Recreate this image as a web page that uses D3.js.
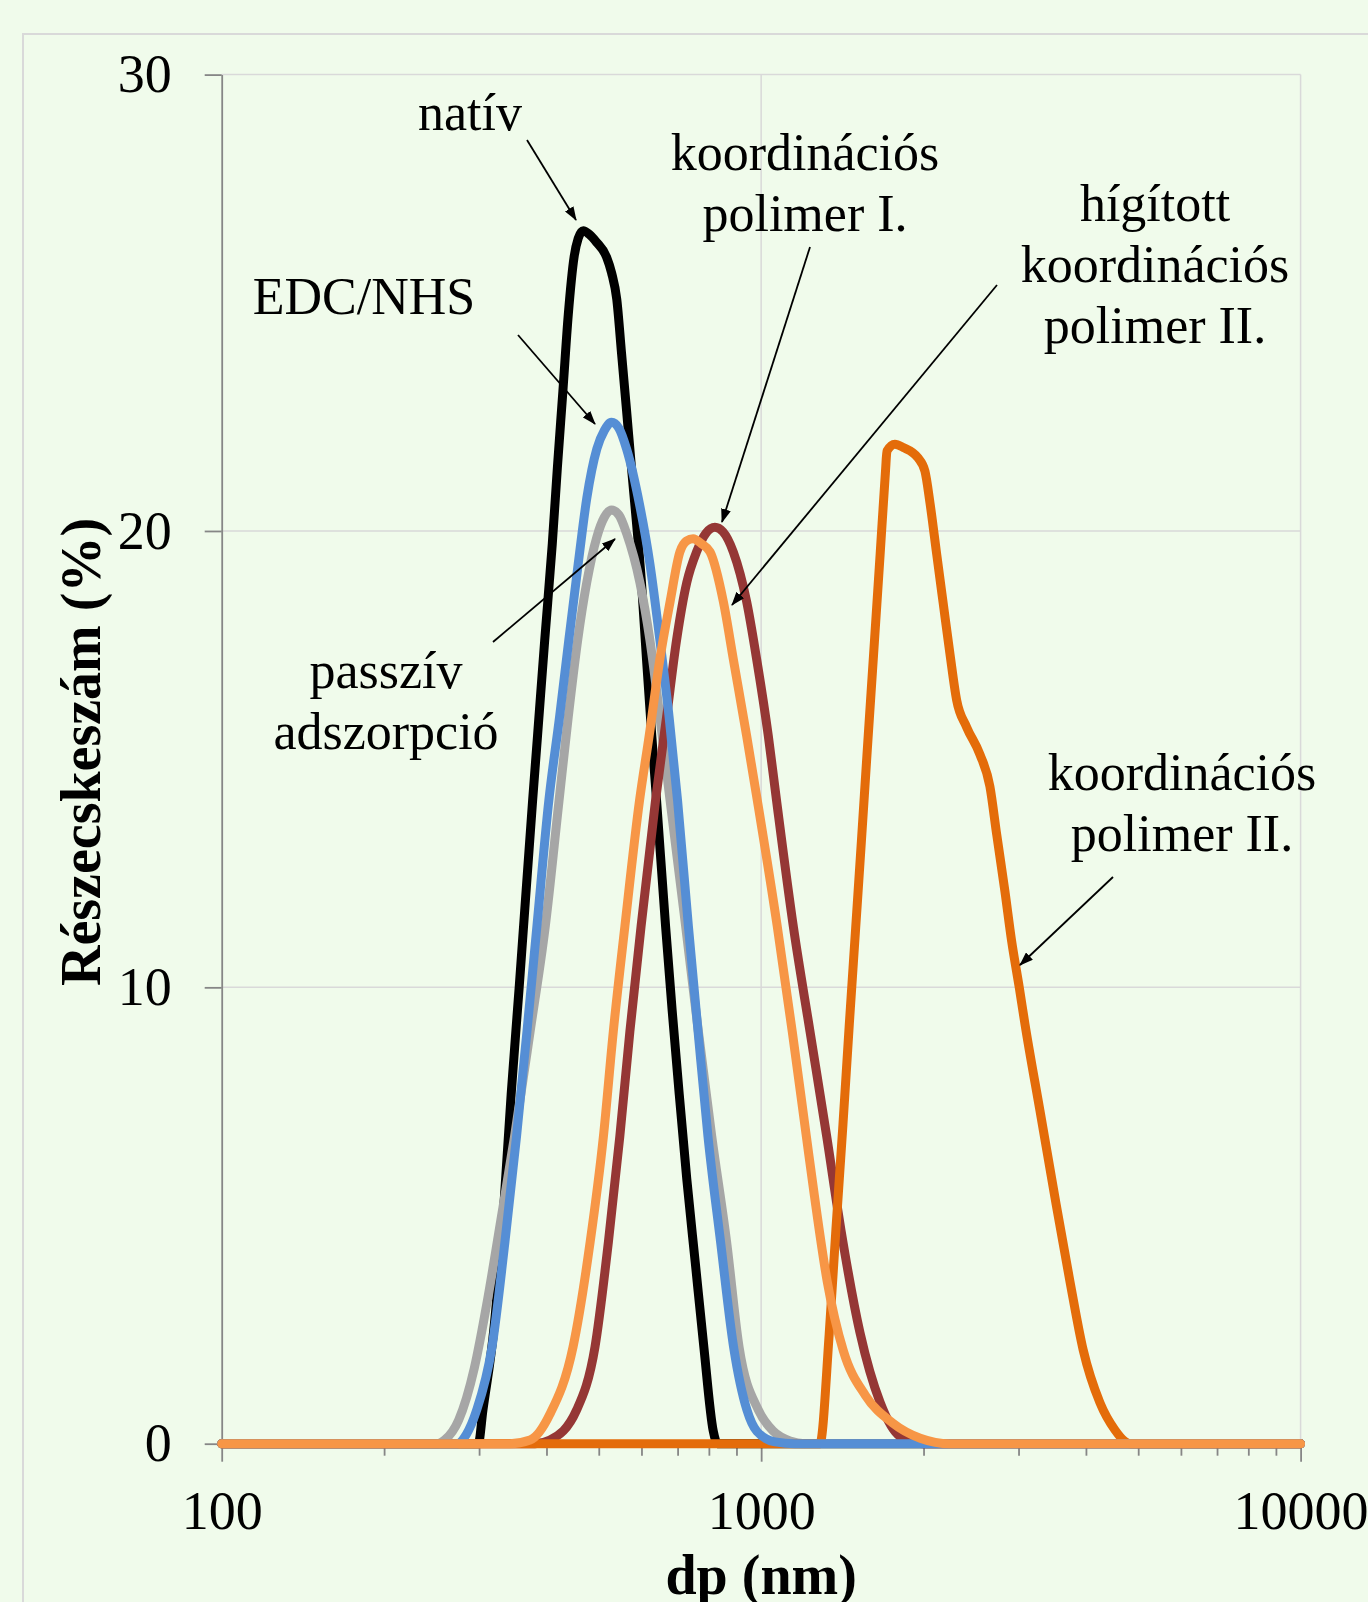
<!DOCTYPE html>
<html>
<head>
<meta charset="utf-8">
<script src="https://cdn.jsdelivr.net/npm/d3@7"></script>
<style>
    body { margin: 0; background: #f0fbeb; }
    svg { display: block; }
</style>
</head>
<body>
<div id="chart"></div>
<script>
// ---- data (dp in nm, share in %) ----
const yTicks = [0, 10, 20, 30];
const xMajorTicks = [100, 1000, 10000];
const xMinorTicks = [200, 300, 400, 500, 600, 700, 800, 900, 2000, 3000, 4000, 5000, 6000, 7000, 8000, 9000];

const nativ = [[100,0],[290,0],[299,0],[305,0.74],[320,2.58],[332,4.88],[344,7.65],[356,10.0],[377,14.09],[385,15.51],[397,17.61],[410,19.71],[419,21.38],[429,23.06],[439,24.74],[450,26.0],[458,26.41],[468,26.58],[480,26.5],[495,26.33],[517,26.0],[528,25.66],[540,25.07],[551,23.9],[563,22.64],[575,21.38],[588,20.12],[600,18.87],[613,17.19],[627,15.51],[640,14.09],[665,11.34],[684,9.49],[705,7.65],[728,5.8],[755,3.96],[783,2.12],[815,0.28],[830,0],[10000,0]];

const passziv = [[100,0],[251,0],[259,0.08],[275,0.52],[294,1.66],[311,3.15],[329,4.88],[349,6.73],[373,9.03],[398,11.34],[422,14.09],[439,15.93],[457,17.61],[475,18.87],[496,19.87],[512,20.3],[528,20.46],[545,20.35],[563,19.95],[596,18.87],[622,17.61],[649,15.93],[678,14.09],[720,11.6],[765,9.03],[810,6.73],[863,4.42],[910,2.12],[988,0.74],[1052,0.28],[1131,0.06],[1206,0],[10000,0]];

const edcNhs = [[100,0],[273,0],[284,0.2],[297,0.74],[317,2.12],[335,4.42],[352,6.73],[368,9.03],[384,11.34],[404,14.09],[423,15.93],[440,17.61],[458,19.28],[475,20.71],[496,21.8],[512,22.2],[528,22.38],[545,22.25],[563,21.8],[596,20.54],[622,19.28],[649,17.61],[675,15.93],[700,14.09],[733,11.34],[764,9.03],[797,6.73],[841,4.42],[889,2.12],[941,0.74],[982,0.27],[1061,0.04],[1156,0],[10000,0]];

const koordI = [[100,0],[381,0],[406,0.08],[455,0.74],[492,2.12],[521,4.42],[547,6.73],[571,9.03],[599,11.34],[637,14.09],[668,15.93],[697,17.61],[728,18.87],[759,19.54],[790,19.95],[821,20.08],[850,19.98],[888,19.54],[940,18.45],[981,17.19],[1031,15.51],[1068,14.09],[1147,11.34],[1232,9.03],[1323,6.73],[1406,4.68],[1525,2.43],[1661,0.91],[1809,0.16],[1995,0],[10000,0]];

const koordII = [[100,0],[1285,0],[1337,2.4],[1376,4.7],[1418,7.0],[1457,9.2],[1497,11.3],[1534,13.2],[1573,15.2],[1616,17.3],[1662,19.5],[1700,21.3],[1711,21.75],[1770,21.9],[1834,21.83],[1954,21.6],[2012,21.31],[2056,20.61],[2115,19.5],[2176,18.4],[2239,17.3],[2303,16.3],[2404,15.7],[2545,15.1],[2655,14.4],[2733,13.35],[2831,12.1],[2914,11.0],[3009,10.0],[3083,9.2],[3287,7.3],[3504,5.4],[3737,3.55],[3954,2.05],[4246,0.9],[4528,0.3],[4725,0.05],[4850,0],[10000,0]];

const higitott = [[100,0],[342,0],[373,0.08],[406,0.65],[448,2.12],[482,4.42],[510,6.73],[532,9.03],[559,11.34],[595,14.09],[620,15.51],[649,17.19],[678,18.45],[707,19.54],[727,19.78],[748,19.83],[775,19.72],[804,19.54],[851,18.45],[888,17.19],[940,15.51],[984,14.09],[1071,11.34],[1142,9.03],[1213,6.73],[1255,5.44],[1326,3.55],[1420,2.04],[1560,1.06],[1750,0.46],[1972,0.12],[2242,0],[10000,0]];

// draw order = z order (last on top)
const seriesNames = ["natív", "passzív adszorpció", "koordinációs polimer I.", "koordinációs polimer II.", "EDC/NHS", "hígított koordinációs polimer II."];
const seriesData = [nativ, passziv, koordI, koordII, edcNhs, higitott];
const seriesColors = ["#000000", "#a6a6a6", "#953735", "#e46c0a", "#558ed5", "#f79646"];

// annotation texts and their placement (pixels in the svg)
const notes = [
    { lines: ["natív"], x: 470, y: 130, from: [527, 140], to: [576, 220] },
    { lines: ["EDC/NHS"], x: 364, y: 314, from: [518, 335], to: [595, 424] },
    { lines: ["passzív", "adszorpció"], x: 386, y: 688, from: [493, 642], to: [615, 539] },
    { lines: ["koordinációs", "polimer I."], x: 805, y: 170, from: [810, 247], to: [722, 522] },
    { lines: ["hígított", "koordinációs", "polimer II."], x: 1155, y: 221, from: [997, 285], to: [732, 605] },
    { lines: ["koordinációs", "polimer II."], x: 1182, y: 790, from: [1113, 877], to: [1020, 965] }
];

// ---- layout ----
const W = 1368, H = 1602;
const margin = { top: 74.6, left: 221.7 };
const width = 1078.9, height = 1369.1;
const serif = "'Liberation Serif', 'Times New Roman', serif";
const axisColor = "#868686", gridColor = "#d9d9d9";

const svg = d3.select("#chart")
    .append("svg")
    .attr("width", W)
    .attr("height", H);

svg.append("rect")
    .attr("width", W).attr("height", H)
    .attr("fill", "#f0fbeb");

// outer chart-area frame (runs off the picture on right/bottom)
svg.append("rect")
    .attr("x", 23).attr("y", 34)
    .attr("width", 1400).attr("height", 1650)
    .attr("fill", "none")
    .attr("stroke", gridColor)
    .attr("stroke-width", 2);

const g = svg.append("g")
    .attr("transform", `translate(${margin.left},${margin.top})`);

const x = d3.scaleLog().domain([100, 10000]).range([0, width]);
const y = d3.scaleLinear().domain([0, 30]).range([height, 0]);

/** grid */
g.append("g")
    .selectAll("line")
    .data(yTicks.filter(d => d > 0))
    .enter().append("line")
    .attr("x1", 0).attr("x2", width)
    .attr("y1", d => y(d)).attr("y2", d => y(d))
    .attr("stroke", gridColor)
    .attr("stroke-width", 1.5);

g.append("g")
    .selectAll("line")
    .data(xMajorTicks.slice(1))
    .enter().append("line")
    .attr("x1", d => x(d)).attr("x2", d => x(d))
    .attr("y1", 0).attr("y2", height)
    .attr("stroke", gridColor)
    .attr("stroke-width", 1.5);

/** axes */
const axisY = g.append("g")
    .attr("class", "axis_y")
    .call(d3.axisLeft(y).tickValues(yTicks).tickSize(17).tickSizeOuter(0).tickPadding(33));

const axisXMinor = g.append("g")
    .attr("transform", `translate(0,${height})`)
    .call(d3.axisBottom(x).tickValues(xMinorTicks).tickSize(12).tickSizeOuter(0).tickFormat(""));
axisXMinor.select(".domain").remove();

const axisX = g.append("g")
    .attr("class", "axis_x")
    .attr("transform", `translate(0,${height})`)
    .call(d3.axisBottom(x).tickValues(xMajorTicks).tickSize(18).tickSizeOuter(0).tickFormat(d3.format("d")));

g.selectAll(".axis_y, .axis_x").selectAll(".domain")
    .attr("stroke", axisColor).attr("stroke-width", 1.8);
g.selectAll("g.tick line")
    .attr("stroke", axisColor).attr("stroke-width", 1.8);

axisY.selectAll("text")
    .attr("font-family", serif)
    .attr("font-size", 54)
    .attr("fill", "#000");

axisX.selectAll("text")
    .attr("font-family", serif)
    .attr("font-size", 54)
    .attr("fill", "#000")
    .attr("y", 85)
    .attr("dy", 0);

/** axis titles */
svg.append("text")
    .attr("x", margin.left + x(1000))
    .attr("y", 1594)
    .attr("text-anchor", "middle")
    .attr("font-family", serif)
    .attr("font-weight", "bold")
    .attr("font-size", 56)
    .text("dp (nm)");

svg.append("text")
    .attr("transform", "translate(100,752) rotate(-90)")
    .attr("text-anchor", "middle")
    .attr("font-family", serif)
    .attr("font-weight", "bold")
    .attr("font-size", 56)
    .text("Részecskeszám (%)");

/** lines */
const line = d3.line()
    .x(d => x(d[0]))
    .y(d => y(d[1]))
    .curve(d3.curveMonotoneX);

g.append("g")
    .attr("class", "lineGroup")
    .selectAll("path")
    .data(seriesData)
    .enter().append("path")
    .attr("fill", "none")
    .attr("stroke", (d, i) => seriesColors[i])
    .attr("stroke-width", 9)
    .attr("stroke-linejoin", "round")
    .attr("stroke-linecap", "round")
    .attr("d", d => line(d))
    .append("title")
    .text((d, i) => seriesNames[i]);

/** annotations */
svg.append("defs").append("marker")
    .attr("id", "arrow")
    .attr("markerUnits", "userSpaceOnUse")
    .attr("viewBox", "0 0 14 10")
    .attr("refX", 13).attr("refY", 5)
    .attr("markerWidth", 14).attr("markerHeight", 10)
    .attr("orient", "auto")
    .append("path")
    .attr("d", "M0,0 L14,5 L0,10 Z")
    .attr("fill", "#000");

const ann = svg.append("g").attr("class", "annotations");

notes.forEach(n => {
    ann.append("line")
        .attr("x1", n.from[0]).attr("y1", n.from[1])
        .attr("x2", n.to[0]).attr("y2", n.to[1])
        .attr("stroke", "#000")
        .attr("stroke-width", 1.8)
        .attr("marker-end", "url(#arrow)");

    const t = ann.append("text")
        .attr("text-anchor", "middle")
        .attr("font-family", serif)
        .attr("font-size", 52)
        .attr("fill", "#000");
    n.lines.forEach((s, i) => {
        t.append("tspan")
            .attr("x", n.x)
            .attr("y", n.y + i * 61)
            .text(s);
    });
});
</script>
</body>
</html>
